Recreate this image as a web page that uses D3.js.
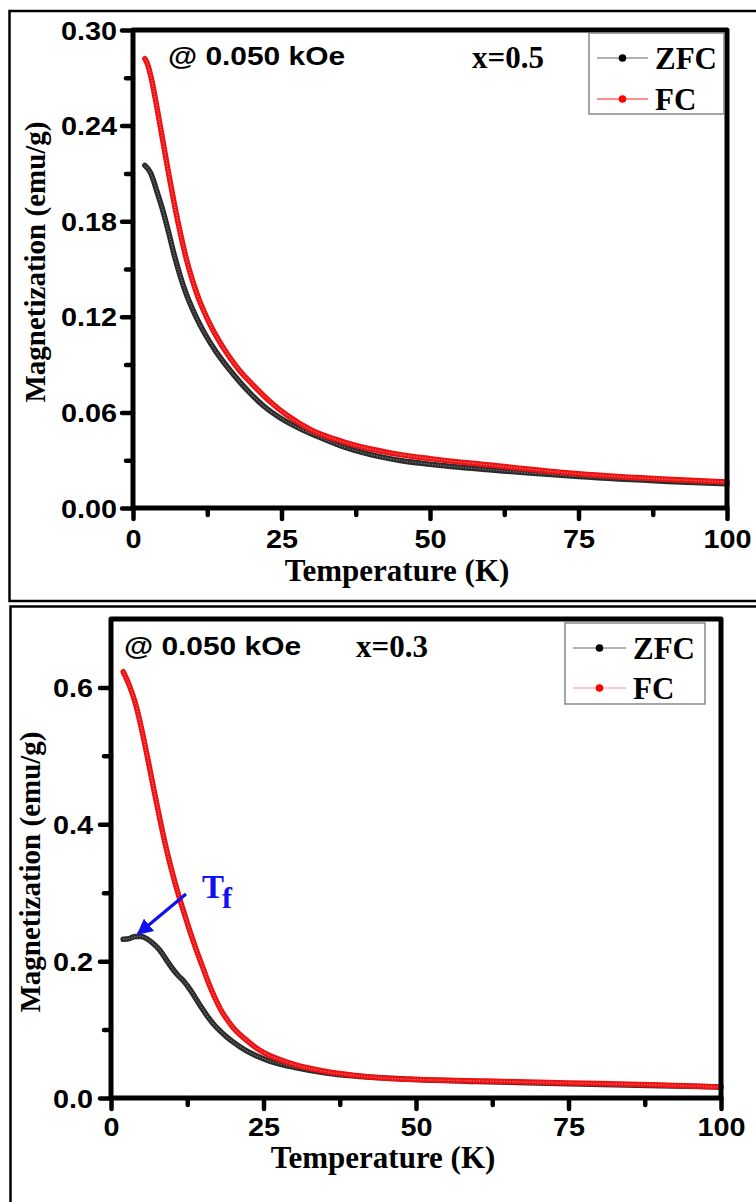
<!DOCTYPE html>
<html><head><meta charset="utf-8">
<script src="https://cdn.jsdelivr.net/npm/d3@7"></script>
<style>body{margin:0;background:#fff}svg{display:block}</style>
</head><body>
<script>
// ---------- data ----------
const seriesNames = ["ZFC", "FC"];
const xTicks = [0, 25, 50, 75, 100];
const xMinorTicks = [12.5, 37.5, 62.5, 87.5];
const yTicksA = [0.00, 0.06, 0.12, 0.18, 0.24, 0.30];
const yMinorA = [0.03, 0.09, 0.15, 0.21, 0.27];
const yTicksB = [0.0, 0.2, 0.4, 0.6];
const yMinorB = [0.1, 0.3, 0.5];

// x = 0.5 panel
const tempA_ZFC = [2, 2.5, 3, 3.5, 4, 5, 6, 7, 8, 9, 10, 11, 12, 14, 16, 18, 20, 22, 25, 28, 31, 35, 40, 45, 50, 60, 75, 90, 100];
const magA_ZFC  = [0.215, 0.213, 0.210, 0.205, 0.199, 0.187, 0.173, 0.158, 0.145, 0.134, 0.125, 0.117, 0.110, 0.098, 0.088, 0.079, 0.071, 0.064, 0.056, 0.050, 0.045, 0.039, 0.0335, 0.0298, 0.0275, 0.024, 0.0197, 0.0167, 0.0152];
const tempA_FC  = [2, 2.5, 3, 4, 5, 6, 7, 8, 9, 10, 11, 12, 13, 14, 16, 18, 20, 23, 26, 30, 35, 40, 45, 50, 60, 75, 90, 100];
const magA_FC   = [0.282, 0.278, 0.271, 0.252, 0.231, 0.210, 0.190, 0.172, 0.156, 0.143, 0.132, 0.123, 0.115, 0.108, 0.096, 0.086, 0.078, 0.067, 0.058, 0.049, 0.042, 0.037, 0.0335, 0.031, 0.027, 0.0215, 0.018, 0.0163];

// x = 0.3 panel
const tempB_ZFC = [2, 3, 4, 5, 6, 7, 8, 9, 10, 11, 12, 13, 14, 15, 16, 17, 18, 19, 20, 22, 24, 26, 28, 30, 35, 40, 50, 60, 75, 90, 100];
const magB_ZFC  = [0.232, 0.233, 0.236, 0.236, 0.232, 0.225, 0.216, 0.203, 0.190, 0.179, 0.170, 0.158, 0.144, 0.130, 0.117, 0.106, 0.097, 0.089, 0.082, 0.070, 0.061, 0.054, 0.049, 0.045, 0.037, 0.032, 0.027, 0.024, 0.021, 0.018, 0.016];
const tempB_FC  = [2, 3, 4, 5, 6, 7, 8, 9, 10, 11, 12, 13, 14, 15, 16, 17, 18, 19, 20, 22, 24, 26, 28, 30, 35, 40, 45, 50, 60, 75, 90, 100];
const magB_FC   = [0.623, 0.603, 0.577, 0.540, 0.497, 0.452, 0.408, 0.367, 0.331, 0.299, 0.270, 0.242, 0.216, 0.192, 0.168, 0.147, 0.129, 0.115, 0.103, 0.086, 0.072, 0.062, 0.055, 0.049, 0.039, 0.033, 0.029, 0.027, 0.025, 0.022, 0.019, 0.016];

// ---------- drawing ----------
const W = 756, H = 1202;
const svg = d3.select("body").append("svg").attr("width", W).attr("height", H);
const SANS = "'Liberation Sans', Arial, sans-serif";
const SERIF = "'Liberation Serif', 'Times New Roman', serif";
const SX = 1.13; // horizontal stretch of the sans labels

// outer panel borders
svg.append("rect").attr("x", 9.5).attr("y", 11).attr("width", 760).attr("height", 590)
  .attr("fill", "none").attr("stroke", "#000").attr("stroke-width", 2.5);
svg.append("rect").attr("x", 10.5).attr("y", 606.5).attr("width", 760).attr("height", 620)
  .attr("fill", "none").attr("stroke", "#000").attr("stroke-width", 2.5);

function zip(t, m) { return t.map((d, i) => ({t: d, m: m[i]})); }

const panels = [
  {x0: 133, x1: 727, y0: 508, y1: 30, ymax: 0.30, yTicks: yTicksA, yMinor: yMinorA, fmt: d3.format(".2f"),
   zfc: zip(tempA_ZFC, magA_ZFC), fc: zip(tempA_FC, magA_FC),
   field: {x: 168, y: 65}, comp: {x: 472, y: 68, text: "x=0.5"},
   legend: {x: 589, y: 33, w: 135, h: 81, r1: 58, r2: 99, l0: 597, l1: 648, tx: 655, fcLine: "#ff2020"},
   xlabY: 548, xtitleY: 581, ytitleX: 45, ytitleY: 262, ypad: 5},
  {x0: 111, x1: 721, y0: 1098, y1: 619, ymax: 0.70, yTicks: yTicksB, yMinor: yMinorB, fmt: d3.format(".1f"),
   zfc: zip(tempB_ZFC, magB_ZFC), fc: zip(tempB_FC, magB_FC),
   field: {x: 124, y: 655}, comp: {x: 356, y: 657, text: "x=0.3"},
   legend: {x: 565, y: 623, w: 140, h: 81, r1: 648, r2: 688, l0: 573, l1: 626, tx: 633, fcLine: "#ff8f8f"},
   xlabY: 1136, xtitleY: 1168, ytitleX: 40, ytitleY: 872, ypad: 7}
];

panels.forEach(p => {
  const x = d3.scaleLinear().domain([0, 100]).range([p.x0, p.x1]);
  const y = d3.scaleLinear().domain([0, p.ymax]).range([p.y0, p.y1]);
  const g = svg.append("g");

  const line = d3.line().x(d => x(d.t)).y(d => y(d.m)).curve(d3.curveMonotoneX);

  // curves (ZFC under FC)
  [[p.zfc, "#2b2b2b", "#8a8a8a"], [p.fc, "#ee1111", "#ff8080"]].forEach(([data, c, ci]) => {
    g.append("path").datum(data).attr("d", line).attr("fill", "none")
      .attr("stroke", c).attr("stroke-width", 5.5).attr("stroke-linecap", "round").attr("stroke-linejoin", "round");
    g.append("path").datum(data).attr("d", line).attr("fill", "none")
      .attr("stroke", ci).attr("stroke-width", 1.4).attr("stroke-dasharray", "1.2,1.6").attr("opacity", 0.8);
  });

  // frame
  g.append("rect").attr("x", p.x0).attr("y", p.y1).attr("width", p.x1 - p.x0).attr("height", p.y0 - p.y1)
    .attr("fill", "none").attr("stroke", "#000").attr("stroke-width", 5).attr("stroke-linejoin", "round");

  // x axis
  const gx = g.append("g").attr("transform", `translate(0,${p.y0})`)
    .call(d3.axisBottom(x).tickValues(xTicks).tickSize(11).tickSizeOuter(0).tickFormat(d3.format("d")));
  gx.select(".domain").remove();
  gx.selectAll("line").attr("stroke-width", 4.5).attr("stroke-linecap", "round");
  gx.selectAll("text").attr("y", null).attr("dy", null)
    .attr("transform", `translate(0,${p.xlabY - p.y0}) scale(${SX},1)`)
    .attr("font-family", SANS).attr("font-weight", "bold").attr("font-size", 25.5).attr("fill", "#000");
  const gxm = g.append("g").attr("transform", `translate(0,${p.y0})`)
    .call(d3.axisBottom(x).tickValues(xMinorTicks).tickSize(7).tickSizeOuter(0).tickFormat(""));
  gxm.select(".domain").remove();
  gxm.selectAll("line").attr("stroke-width", 4.5).attr("stroke-linecap", "round");

  // y axis
  const gy = g.append("g").attr("transform", `translate(${p.x0},0)`)
    .call(d3.axisLeft(y).tickValues(p.yTicks).tickSize(11).tickPadding(p.ypad).tickSizeOuter(0).tickFormat(p.fmt));
  gy.select(".domain").remove();
  gy.selectAll("line").attr("stroke-width", 4.5).attr("stroke-linecap", "round");
  gy.selectAll("text").each(function() {
      const t = d3.select(this);
      const xx = +t.attr("x");
      t.attr("x", null).attr("transform", `translate(${xx},0) scale(${SX},1)`);
    })
    .attr("dy", "0.36em")
    .attr("font-family", SANS).attr("font-weight", "bold").attr("font-size", 25.5).attr("fill", "#000");
  const gym = g.append("g").attr("transform", `translate(${p.x0},0)`)
    .call(d3.axisLeft(y).tickValues(p.yMinor).tickSize(7).tickSizeOuter(0).tickFormat(""));
  gym.select(".domain").remove();
  gym.selectAll("line").attr("stroke-width", 4.5).attr("stroke-linecap", "round");

  // titles
  g.append("text").attr("x", (p.x0 + p.x1) / 2 - 33).attr("y", p.xtitleY).attr("text-anchor", "middle")
    .attr("font-family", SERIF).attr("font-weight", "bold").attr("font-size", 31).text("Temperature (K)");
  g.append("text").attr("transform", `translate(${p.ytitleX},${p.ytitleY}) rotate(-90)`).attr("text-anchor", "middle")
    .attr("font-family", SERIF).attr("font-weight", "bold").attr("font-size", 29).text("Magnetization (emu/g)");

  // annotations
  g.append("text").attr("transform", `translate(${p.field.x},${p.field.y}) scale(1.15,1)`)
    .attr("font-family", SANS).attr("font-weight", "bold").attr("font-size", 26).text("@ 0.050 kOe");
  g.append("text").attr("x", p.comp.x).attr("y", p.comp.y)
    .attr("font-family", SERIF).attr("font-weight", "bold").attr("font-size", 31).text(p.comp.text);

  // legend
  const L = p.legend;
  g.append("rect").attr("x", L.x).attr("y", L.y).attr("width", L.w).attr("height", L.h)
    .attr("fill", "#fff").attr("stroke", "#777").attr("stroke-width", 1.3);
  const rows = [[L.r1, "#666", "#000", seriesNames[0]], [L.r2, L.fcLine, "#ff0000", seriesNames[1]]];
  rows.forEach(([ry, lc, dc, name]) => {
    g.append("line").attr("x1", L.l0).attr("x2", L.l1).attr("y1", ry).attr("y2", ry)
      .attr("stroke", lc).attr("stroke-width", 1.2);
    g.append("circle").attr("cx", (L.l0 + L.l1) / 2).attr("cy", ry).attr("r", 3.8).attr("fill", dc);
    g.append("text").attr("x", L.tx).attr("y", ry + 10.5)
      .attr("font-family", SERIF).attr("font-weight", "bold").attr("font-size", 31).text(name);
  });
});

// Tf annotation (bottom panel)
const blue = "#1010f0";
const defs = svg.append("defs");
defs.append("marker").attr("id", "ah").attr("viewBox", "0 0 10 10").attr("refX", 9).attr("refY", 5)
  .attr("markerWidth", 5).attr("markerHeight", 5).attr("orient", "auto")
  .append("path").attr("d", "M0,0 L10,5 L0,10 z").attr("fill", blue);
svg.append("line").attr("x1", 186).attr("y1", 894).attr("x2", 138).attr("y2", 934)
  .attr("stroke", blue).attr("stroke-width", 3.2).attr("marker-end", "url(#ah)");
const tf = svg.append("text").attr("x", 202).attr("y", 898)
  .attr("font-family", SERIF).attr("font-weight", "bold").attr("fill", blue);
tf.append("tspan").attr("font-size", 33).text("T");
tf.append("tspan").attr("font-size", 30).attr("dx", -2).attr("dy", 10).text("f");
</script>
</body></html>
